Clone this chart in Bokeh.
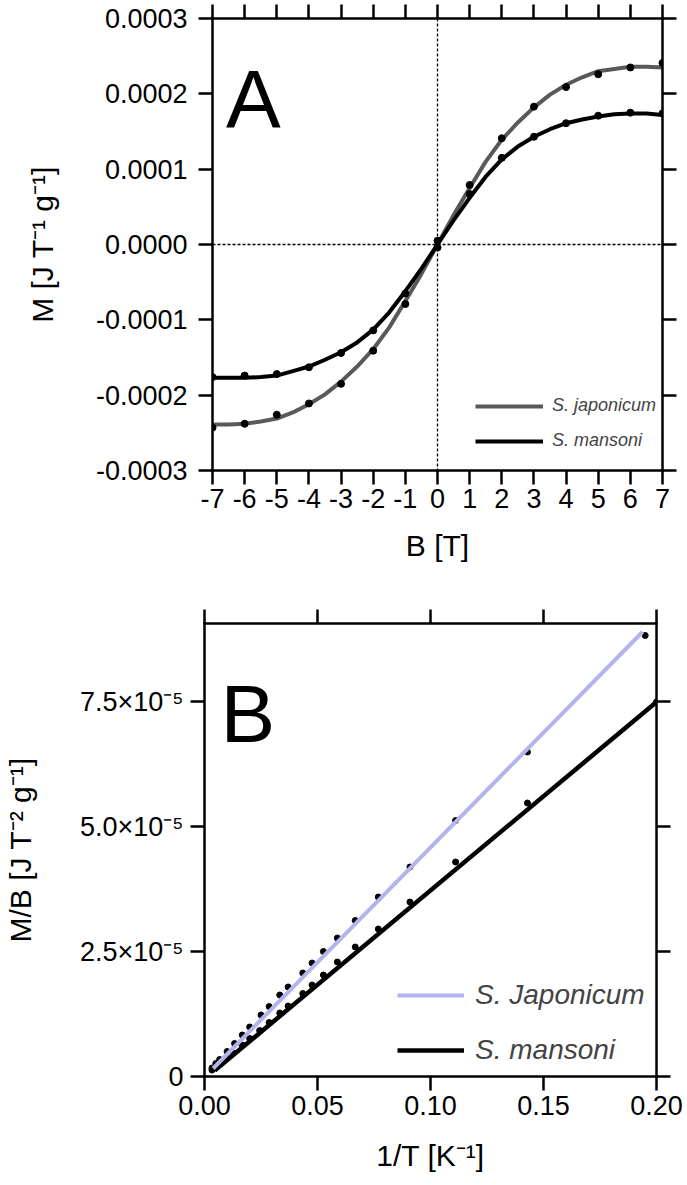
import numpy as np
from bokeh.plotting import figure
from bokeh.models import (Range1d, LinearAxis, FixedTicker, PrintfTickFormatter,
                          CustomJSTickFormatter, Span, Label, Legend, LegendItem,
                          CustomLabelingPolicy)
from bokeh.layouts import column
from bokeh.embed import file_html
from bokeh.resources import INLINE

# ---------------- Panel A data: M vs B ----------------
B_pts = [-7, -6, -5, -4, -3, -2, -1, 0, 1, 2, 3, 4, 5, 6, 7]
M_jap_pts = np.array([-2.43, -2.38, -2.26, -2.11, -1.85, -1.41, -0.79, 0.05,
                      0.79, 1.41, 1.83, 2.09, 2.26, 2.35, 2.41]) * 1e-4
M_man_pts = np.array([-1.76, -1.74, -1.72, -1.63, -1.44, -1.14, -0.65, -0.04,
                      0.67, 1.15, 1.43, 1.61, 1.71, 1.75, 1.74]) * 1e-4

B_fit = [-7, -6.5, -6, -5.5, -5, -4.5, -4, -3.5, -3, -2.5, -2, -1.5, -1, -0.5, 0,
         0.5, 1, 1.5, 2, 2.5, 3, 3.5, 4, 4.5, 5, 5.5, 6, 6.5, 7]
M_jap_fit = np.array([-2.39, -2.39, -2.38, -2.35, -2.31, -2.23, -2.12, -1.99, -1.82,
                      -1.62, -1.39, -1.10, -0.75, -0.39, 0.0,
                      0.39, 0.75, 1.10, 1.39, 1.62, 1.82, 1.99, 2.12, 2.22, 2.30,
                      2.33, 2.36, 2.36, 2.35]) * 1e-4
M_man_fit = np.array([-1.77, -1.77, -1.77, -1.76, -1.74, -1.68, -1.62, -1.53, -1.43,
                      -1.30, -1.13, -0.90, -0.62, -0.32, 0.0,
                      0.32, 0.62, 0.90, 1.13, 1.30, 1.43, 1.53, 1.61, 1.66, 1.70,
                      1.73, 1.74, 1.74, 1.72]) * 1e-4

A_xticks = list(range(-7, 8))
A_yticks = [-3e-4, -2e-4, -1e-4, 0.0, 1e-4, 2e-4, 3e-4]

# ---------------- Panel B data: M/B vs 1/T ----------------
invT_jap = [0.195, 0.1429, 0.1111, 0.0909, 0.0769, 0.0667, 0.0588, 0.0526, 0.0476,
            0.0435, 0.0370, 0.0333, 0.0286, 0.0250, 0.0200, 0.0167, 0.0133, 0.0100,
            0.0067, 0.0050, 0.0033]
MB_jap = np.array([8.82, 6.49, 5.12, 4.19, 3.59, 3.12, 2.77, 2.50, 2.27, 2.07, 1.79,
                   1.63, 1.40, 1.23, 0.99, 0.83, 0.66, 0.50, 0.34, 0.26, 0.17]) * 1e-5
invT_man = [0.2, 0.1429, 0.1111, 0.0909, 0.0769, 0.0667, 0.0588, 0.0526, 0.0476,
            0.0435, 0.0370, 0.0333, 0.0286, 0.0244, 0.0200, 0.0167, 0.0127, 0.0100,
            0.0067, 0.0050, 0.0033]
MB_man = np.array([7.49, 5.47, 4.29, 3.49, 2.95, 2.59, 2.29, 2.03, 1.83, 1.66, 1.41,
                   1.27, 1.08, 0.92, 0.76, 0.63, 0.47, 0.38, 0.25, 0.19, 0.13]) * 1e-5

invT_jap_fit = [0.0038, 0.1938]
MB_jap_fit = np.array([0.16, 8.89]) * 1e-5
invT_man_fit = [0.0045, 0.2]
MB_man_fit = np.array([0.12, 7.49]) * 1e-5

B_xticks = [0.0, 0.05, 0.10, 0.15, 0.20]
B_yticks = [0.0, 2.5e-5, 5.0e-5, 7.5e-5]
B_ylabels = ["0", "2.5\u00d710\u207b\u2075", "5.0\u00d710\u207b\u2075", "7.5\u00d710\u207b\u2075"]

FONT = "Liberation Sans"
TICK_FS = "27px"
TITLE_FS = "30px"
LW_AX = 2.5
TICK_OUT = 14

HIDE_ALL = CustomLabelingPolicy(
    code="const idx = Array.from(indices); for (const i of idx) { indices.unset(i) } return indices;")


def style_axis(ax, ticks, show_labels, label_standoff=6, title_standoff=20):
    ax.ticker = FixedTicker(ticks=ticks)
    ax.axis_line_width = LW_AX
    ax.axis_line_color = "black"
    ax.axis_line_cap = "square"
    ax.major_tick_line_width = LW_AX
    ax.major_tick_line_color = "black"
    ax.major_tick_in = 0
    ax.major_tick_out = TICK_OUT
    ax.minor_tick_line_color = None
    if show_labels:
        ax.major_label_text_font = FONT
        ax.major_label_text_font_size = TICK_FS
        ax.major_label_text_color = "black"
        ax.major_label_standoff = label_standoff
        ax.axis_label_text_font = FONT
        ax.axis_label_text_font_size = TITLE_FS
        ax.axis_label_text_font_style = "normal"
        ax.axis_label_text_color = "black"
        ax.axis_label_standoff = title_standoff
    else:
        ax.major_label_text_font_size = "1px"
        ax.major_label_policy = HIDE_ALL
        ax.major_label_standoff = 0
        ax.axis_label_standoff = 0
        ax.axis_label = None


# ================= Figure A =================
pA = figure(width=687, height=590, output_backend="svg", toolbar_location=None,
            x_range=Range1d(-7, 7), y_range=Range1d(-3e-4, 3e-4),
            min_border_left=212, min_border_right=25, min_border_top=17,
            min_border_bottom=120, frame_align=False)
pA.outline_line_color = None
pA.xgrid.grid_line_color = None
pA.ygrid.grid_line_color = None

pA.xaxis.axis_label = "B [T]"
pA.yaxis.axis_label = "M [J T\u207b\u00b9 g\u207b\u00b9]"
style_axis(pA.xaxis[0], A_xticks, True, label_standoff=4, title_standoff=18)
style_axis(pA.yaxis[0], A_yticks, True, label_standoff=11, title_standoff=34)
pA.yaxis[0].formatter = PrintfTickFormatter(format="%.4f")
pA.xaxis[0].formatter = PrintfTickFormatter(format="%d")
topA = LinearAxis()
rightA = LinearAxis()
style_axis(topA, A_xticks, False)
style_axis(rightA, A_yticks, False)
pA.add_layout(topA, "above")
pA.add_layout(rightA, "right")

pA.add_layout(Span(location=0, dimension="height", line_color="black",
                   line_width=1.3, line_dash="3 2", level="underlay"))
pA.add_layout(Span(location=0, dimension="width", line_color="black",
                   line_width=1.3, line_dash="3 2", level="underlay"))

rA_jap = pA.line(B_fit, M_jap_fit, line_color="#595959", line_width=4)
rA_man = pA.line(B_fit, M_man_fit, line_color="black", line_width=4)
pA.scatter(B_pts, M_jap_pts, size=7, color="black")
pA.scatter(B_pts, M_man_pts, size=7, color="black")

pA.add_layout(Label(x=-6.58, y=1.94e-4, text="A", text_font=FONT,
                    text_font_size="82px", text_baseline="alphabetic",
                    text_color="black"))

legA = Legend(items=[LegendItem(label="S. japonicum", renderers=[rA_jap]),
                     LegendItem(label="S. mansoni", renderers=[rA_man])],
              location=(263, 19), label_text_font=FONT, label_text_font_size="18px",
              label_text_font_style="italic", glyph_width=68, glyph_height=20,
              label_height=20, label_standoff=9, spacing=14, padding=0, margin=0,
              border_line_color=None, background_fill_alpha=0)
pA.add_layout(legA)

# ================= Figure B =================
pB = figure(width=687, height=595, output_backend="svg", toolbar_location=None,
            x_range=Range1d(0, 0.2), y_range=Range1d(0, 9.06e-5),
            min_border_left=203, min_border_right=31, min_border_top=33,
            min_border_bottom=109, frame_align=False)
pB.outline_line_color = None
pB.xgrid.grid_line_color = None
pB.ygrid.grid_line_color = None

pB.xaxis.axis_label = "1/T [K\u207b\u00b9]"
pB.yaxis.axis_label = "M/B [J T\u207b\u00b2 g\u207b\u00b9]"
style_axis(pB.xaxis[0], B_xticks, True, label_standoff=5, title_standoff=21)
style_axis(pB.yaxis[0], B_yticks, True, label_standoff=7, title_standoff=40)
pB.xaxis[0].formatter = PrintfTickFormatter(format="%.2f")
pB.yaxis[0].formatter = CustomJSTickFormatter(
    args=dict(vals=B_yticks, labs=B_ylabels),
    code="const i = vals.findIndex(v => Math.abs(v - tick) < 1e-12); return i >= 0 ? labs[i] : '';")
topB = LinearAxis()
rightB = LinearAxis()
style_axis(topB, B_xticks, False)
style_axis(rightB, B_yticks, False)
pB.add_layout(topB, "above")
pB.add_layout(rightB, "right")

pB.scatter(invT_jap, MB_jap, size=6, color="black")
pB.scatter(invT_man, MB_man, size=6, color="black")
rB_man = pB.line(invT_man_fit, MB_man_fit, line_color="black", line_width=4.5)
rB_jap = pB.line(invT_jap_fit, MB_jap_fit, line_color="#b3b3ee", line_width=4)

pB.add_layout(Label(x=0.0071, y=7.26e-5, text="B", text_font=FONT,
                    text_font_size="82px", text_baseline="alphabetic",
                    text_color="black"))

legB = Legend(items=[LegendItem(label="S. Japonicum", renderers=[rB_jap]),
                     LegendItem(label="S. mansoni", renderers=[rB_man])],
              location=(193, 10), label_text_font=FONT, label_text_font_size="28px",
              label_text_font_style="italic", glyph_width=67, glyph_height=32,
              label_height=32, label_standoff=11, spacing=23, padding=0, margin=0,
              border_line_color=None, background_fill_alpha=0)
pB.add_layout(legB)

layout = column(pA, pB, spacing=0)
open("out.html", "w").write(file_html(layout, INLINE))
